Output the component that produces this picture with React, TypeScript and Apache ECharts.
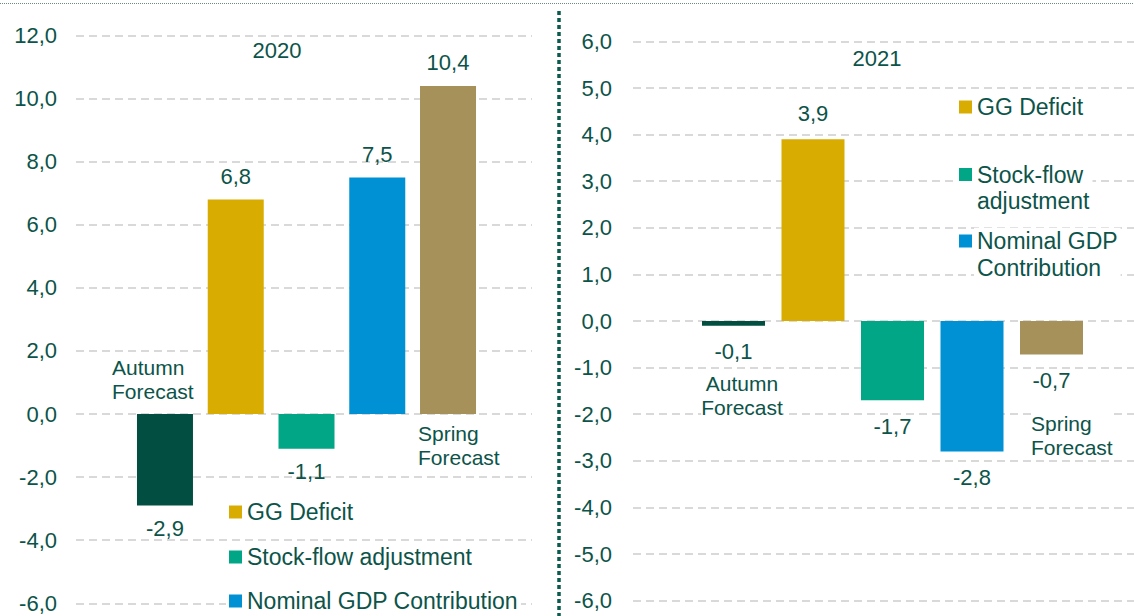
import React, { useEffect, useRef } from 'react';
import * as echarts from 'echarts';

const categories = ['Autumn Forecast', 'GG Deficit', 'Stock-flow adjustment', 'Nominal GDP Contribution', 'Spring Forecast'];
const values2020 = [-2.9, 6.8, -1.1, 7.5, 10.4];
const values2021 = [-0.1, 3.9, -1.7, -2.8, -0.72];
const barColors = ['#024f41', '#d8ac00', '#00a685', '#0090d4', '#a59159'];
const ticks2020 = [-6, -4, -2, 0, 2, 4, 6, 8, 10, 12];
const ticks2021 = [-6, -5, -4, -3, -2, -1, 0, 1, 2, 3, 4, 5, 6];
const legendNames = ['GG Deficit', 'Stock-flow adjustment', 'Nominal GDP Contribution'];
const legendNamesRight = ['GG Deficit', 'Stock-flow\nadjustment', 'Nominal GDP\nContribution'];
const legendColors = ['#d8ac00', '#00a685', '#0090d4'];

const TEXT = '#0c5449';
const FONT = '"Liberation Sans", Arial, sans-serif';
const fmt = (v: number) => v.toFixed(1).replace('.', ',');

export default function App() {
  const ref = useRef<HTMLDivElement>(null);
  useEffect(() => {
    if (!ref.current) return;
    const chart = echarts.init(ref.current, undefined, { renderer: 'svg' });
    const split = { show: true, lineStyle: { color: '#d9d9d9', width: 2, type: [8, 5] as any } };
    const mkData = (vals: number[]) =>
      vals.map((v, i) => ({
        value: v,
        itemStyle: { color: barColors[i] },
        label: { position: v >= 0 ? 'top' : 'bottom' },
      }));
    const lineGridY = (ticks: number[], margin: number) => ({
      type: 'value',
      min: ticks[0],
      max: ticks[ticks.length - 1],
      interval: ticks[1] - ticks[0],
      axisLine: { show: false },
      axisTick: { show: false },
      splitLine: split,
      axisLabel: { formatter: fmt, color: TEXT, fontSize: 22, fontFamily: FONT, margin },
    });
    const hiddenY = (ticks: number[]) => ({
      type: 'value',
      min: ticks[0],
      max: ticks[ticks.length - 1],
      interval: ticks[1] - ticks[0],
      show: false,
      splitLine: { show: false },
    });
    const txt = (x: number, y: number, text: string, opts: any = {}) => ({
      type: 'text',
      x,
      y,
      z: 100,
      style: {
        text,
        fill: TEXT,
        font: `${opts.size || 21}px ${FONT}`,
        align: opts.align || 'center',
        verticalAlign: 'middle',
        lineHeight: opts.lh || 24,
        backgroundColor: opts.bg ? '#ffffff' : undefined,
      },
    });
    const legendItems = (x: number, ys: number[], names: string[], lh: number) => {
      const out: any[] = [];
      names.forEach((n, i) => {
        const lines = n.split('\n').length;
        out.push({
          type: 'rect',
          z: 100,
          shape: { x: x - 3, y: ys[i] - 10, width: 20, height: 20 },
          style: { fill: '#ffffff' },
        });
        out.push({
          type: 'text',
          x: x + 15,
          y: ys[i] + ((lines - 1) * lh) / 2,
          z: 101,
          style: {
            text: n,
            fill: TEXT,
            font: `23px ${FONT}`,
            align: 'left',
            verticalAlign: 'middle',
            lineHeight: lh,
            backgroundColor: '#ffffff',
            padding: [0, 3, 0, 3],
          },
        });
        out.push({
          type: 'rect',
          z: 102,
          shape: { x, y: ys[i] - 6.5, width: 13, height: 13 },
          style: { fill: legendColors[i] },
        });
      });
      return out;
    };
    const option: any = {
      animation: false,
      grid: [
        { left: 76, width: 456, top: 35.4, height: 567.9 },
        { left: 129.6, width: 353.8, top: 35.4, height: 567.9 },
        { left: 633, width: 501, top: 41.4, height: 559.2 },
        { left: 693.75, width: 397.5, top: 41.4, height: 559.2 },
      ],
      xAxis: [
        { type: 'category', gridIndex: 0, data: [''], show: false },
        { type: 'category', gridIndex: 1, data: categories, show: false },
        { type: 'category', gridIndex: 2, data: [''], show: false },
        { type: 'category', gridIndex: 3, data: categories, show: false },
      ],
      yAxis: [
        { gridIndex: 0, ...lineGridY(ticks2020, 19) },
        { gridIndex: 1, ...hiddenY(ticks2020) },
        { gridIndex: 2, ...lineGridY(ticks2021, 21) },
        { gridIndex: 3, ...hiddenY(ticks2021) },
      ],
      series: [
        {
          type: 'bar',
          name: '2020',
          xAxisIndex: 1,
          yAxisIndex: 1,
          barWidth: 56,
          data: mkData(values2020),
          label: { show: true, formatter: (p: any) => fmt(p.value), color: TEXT, fontSize: 22, fontFamily: FONT, distance: 12 },
        },
        {
          type: 'bar',
          name: '2021',
          xAxisIndex: 3,
          yAxisIndex: 3,
          barWidth: 63,
          data: mkData(values2021),
          label: { show: true, formatter: (p: any) => fmt(p.value), color: TEXT, fontSize: 22, fontFamily: FONT, distance: 15 },
        },
      ],
      graphic: [
        { type: 'line', z: 100, shape: { x1: 0, y1: 3.5, x2: 1134, y2: 3.5 }, style: { stroke: '#6b8a86', lineWidth: 1, lineDash: [1, 1] } },
        { type: 'line', z: 100, shape: { x1: 559, y1: 11, x2: 559, y2: 616 }, style: { stroke: '#0b5a4e', lineWidth: 3.5, lineDash: [4, 3] } },
        txt(277, 50, '2020', { size: 22 }),
        txt(877, 58, '2021', { size: 22 }),
        txt(112, 379, 'Autumn\nForecast', { align: 'left', bg: true }),
        txt(418, 445, 'Spring\nForecast', { align: 'left', bg: true }),
        txt(742, 395, 'Autumn\nForecast', { bg: true }),
        txt(1031, 435, 'Spring\nForecast', { align: 'left', bg: true }),
        ...legendItems(229, [512, 557, 601], legendNames, 27),
        ...legendItems(959, [107, 174.5, 241], legendNamesRight, 26.5),
      ],
    };
    chart.setOption(option);
    return () => chart.dispose();
  }, []);
  return <div ref={ref} style={{ position: 'fixed', left: 0, top: 0, width: 1134, height: 616, background: '#fff' }} />;
}
